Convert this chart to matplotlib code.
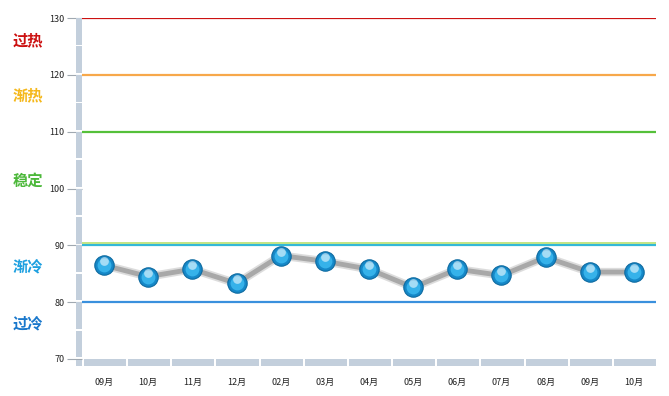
import matplotlib.pyplot as plt
from matplotlib.patches import Rectangle

plt.rcParams['font.family'] = ['Noto Sans CJK SC', 'DejaVu Sans']

months = ['09月', '10月', '11月', '12月', '02月', '03月', '04月',
          '05月', '06月', '07月', '08月', '09月', '10月']
values = [86.5, 84.5, 85.8, 83.3, 88.2, 87.2, 85.8,
          82.6, 85.8, 84.7, 87.9, 85.3, 85.3]

levels = [130, 120, 110, 90, 80]
level_colors = ['#cc1111', '#f7a84a', '#55c03a', '#33b8d8', '#3a90dd']
zone_names = ['过热', '渐热', '稳定', '渐冷', '过冷']
zone_y = [126, 116.3, 101.3, 86.3, 76.3]
zone_colors = ['#cc1111', '#f5b81c', '#4cb83a', '#1ea0e0', '#1a78cc']

fig = plt.figure(figsize=(6.69, 3.96), dpi=100)
ax = fig.add_axes([82 / 669, 1 - 359 / 396, 574 / 669, 341 / 396])
x = list(range(len(months)))
ax.set_xlim(-0.5, len(months) - 0.5)
ax.set_ylim(70, 130)

for s in ax.spines.values():
    s.set_visible(False)

# threshold lines
for lv, c in zip(levels, level_colors):
    ax.axhline(lv, color=c, lw=1.6, zorder=2)
ax.axhline(90.35, color='#b8e070', lw=1.2, zorder=2)

# wall on the left and floor at the bottom
wall_w = 6 / 44.15
floor_h = 7 / 5.683
for y0 in range(70, 130, 5):
    ax.add_patch(Rectangle((-0.5 - wall_w, y0 + 0.3), wall_w, 5 - 0.3,
                           color='#c3cfdc', clip_on=False, zorder=4, lw=0))
ax.add_patch(Rectangle((-0.5 - wall_w, 70 - floor_h), wall_w, floor_h - 0.2,
                       color='#c3cfdc', clip_on=False, zorder=4, lw=0))
for i in x:
    ax.add_patch(Rectangle((i - 0.5 + 0.045, 70 - floor_h), 0.955, floor_h,
                           color='#c3cfdc', clip_on=False, zorder=4, lw=0))

# y ticks
ax.set_yticks(range(70, 131, 10))
ax.tick_params(axis='y', length=10.5, width=0.8, color='#a0a8b0',
               labelsize=6.5, labelcolor='#222222', pad=2)
ax.set_xticks(x)
ax.set_xticklabels(months)
ax.tick_params(axis='x', length=0, labelsize=6.5, labelcolor='#222222', pad=14)

# series
ax.plot(x, values, color='#bbbbbb', lw=6, alpha=0.5, zorder=5)
ax.plot(x, values, color='#a8a8a8', lw=3.5, zorder=5)
ax.scatter(x, values, s=195, color='#1588c8', edgecolor='#0e6aa0',
           linewidth=0.8, zorder=6)
ax.scatter(x, values, s=100, color='#36b2ea', linewidth=0, zorder=7)
ax.scatter(x, [v + 0.7 for v in values], s=40, color='white', alpha=0.55,
           marker='o', linewidth=0, zorder=8)

# zone names
for name, yy, c in zip(zone_names, zone_y, zone_colors):
    ax.text(-1.72, yy, name, color=c, fontsize=11, fontweight='bold',
            ha='center', va='center')

fig.savefig('out.png', dpi=100)
